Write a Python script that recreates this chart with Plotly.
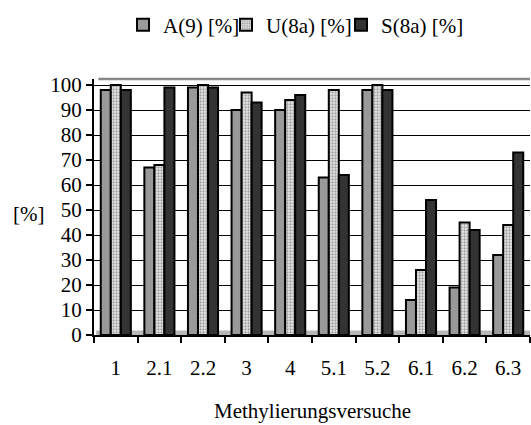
import plotly.graph_objects as go

categories = ["1", "2.1", "2.2", "3", "4", "5.1", "5.2", "6.1", "6.2", "6.3"]
a9 = [98, 67, 99, 90, 90, 63, 98, 14, 19, 32]
u8a = [100, 68, 100, 97, 94, 98, 100, 26, 45, 44]
s8a = [98, 99, 99, 93, 96, 64, 98, 54, 42, 73]
series_names = ["A(9) [%]", "U(8a) [%]", "S(8a) [%]"]
y_ticks = list(range(0, 101, 10))

FONT = "Liberation Serif"

fig = go.Figure()
fig.add_trace(go.Bar(x=categories, y=a9, name=series_names[0], legend="legend",
                     marker=dict(color="#999999", line=dict(color="black", width=2))))
fig.add_trace(go.Bar(x=categories, y=u8a, name=series_names[1], legend="legend2",
                     marker=dict(color="#d8d8d8", line=dict(color="black", width=2),
                                 pattern=dict(shape=".", size=3, solidity=0.45,
                                              fgcolor="#555555", bgcolor="#e8e8e8"))))
fig.add_trace(go.Bar(x=categories, y=s8a, name=series_names[2], legend="legend3",
                     marker=dict(color="#333333", line=dict(color="black", width=2))))

def leg(x):
    return dict(orientation="h", x=x, xref="container", xanchor="left",
                y=0.941, yref="container", yanchor="middle",
                font=dict(size=21, family=FONT), itemwidth=30, bgcolor="rgba(0,0,0,0)")

fig.update_layout(
    width=531, height=425,
    margin=dict(l=94, r=1, t=79, b=90),
    paper_bgcolor="white", plot_bgcolor="white",
    barmode="group", bargap=0.31, bargroupgap=0,
    font=dict(family=FONT, size=21, color="black"),
    legend=leg(0.2316), legend2=leg(0.4256), legend3=leg(0.6422),
    showlegend=True,
)
fig.update_xaxes(
    type="category", showline=True, linecolor="black", linewidth=2,
    ticks="outside", tickson="boundaries", ticklen=6, tickwidth=2, tickcolor="black",
    ticklabelstandoff=13, showgrid=False, range=[-0.5, 9.5],
    tickfont=dict(size=21, family=FONT),
)
fig.update_yaxes(
    range=[0, 102.4], tickvals=y_ticks, showline=True, linecolor="black", linewidth=2,
    ticks="outside", ticklen=6, tickwidth=2, tickcolor="black",
    showgrid=True, gridcolor="black", gridwidth=1, zeroline=False,
    tickfont=dict(size=21, family=FONT), ticklabelstandoff=0,
)
# back wall top edge and floor
fig.add_shape(type="line", xref="paper", yref="paper", x0=0.01, x1=1.0, y0=1, y1=1,
              line=dict(color="#888888", width=2.5))
fig.add_shape(type="rect", xref="paper", yref="y", x0=0.005, x1=1.0, y0=0, y1=1.8,
              fillcolor="#b8b8b8", line=dict(width=0), layer="below")
fig.add_annotation(text="[%]", xref="paper", yref="paper", x=-0.151, y=0.473,
                   showarrow=False, xanchor="center", yanchor="middle",
                   font=dict(size=21, family=FONT))
fig.add_annotation(text="Methylierungsversuche", xref="paper", yref="paper",
                   x=0.5, y=-0.297, showarrow=False, xanchor="center", yanchor="middle",
                   font=dict(size=21, family=FONT))

fig.write_html("out.html")
